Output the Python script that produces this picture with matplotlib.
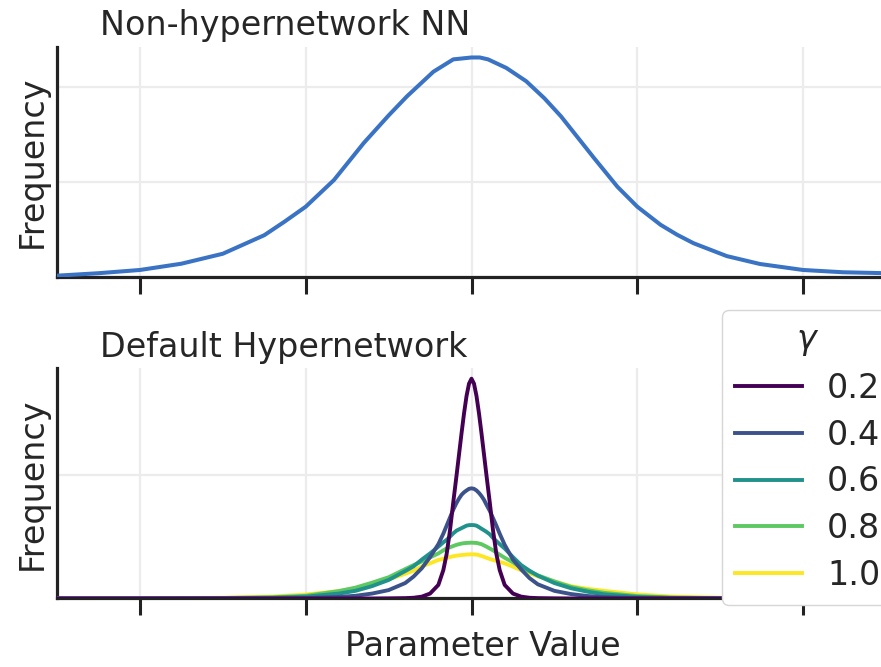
import numpy as np
import matplotlib
matplotlib.use('Agg')
import matplotlib.pyplot as plt

# ---- data ----
# Non-hypernetwork NN: parameter value distribution
nn_x = [-2.5, -2.25, -2.0, -1.75, -1.5, -1.25, -1.13, -1.0, -0.83, -0.65, -0.5, -0.39,
        -0.23, -0.11, 0.0, 0.05, 0.1, 0.21, 0.33, 0.44, 0.54, 0.64, 0.74, 0.88, 1.0,
        1.14, 1.24, 1.34, 1.54, 1.74, 2.0, 2.24, 2.5]
nn_freq = [0.014, 0.04, 0.074, 0.14, 0.245, 0.44, 0.58, 0.74, 1.02, 1.41, 1.70, 1.90,
           2.16, 2.29, 2.31, 2.31, 2.29, 2.20, 2.06, 1.88, 1.69, 1.47, 1.25, 0.95, 0.74,
           0.55, 0.445, 0.355, 0.22, 0.137, 0.074, 0.05, 0.04]

# Default Hypernetwork: one curve per gamma
hyper_x = [-2.5, -2.0, -1.5, -1.2, -1.0, -0.8, -0.7, -0.6, -0.5, -0.4, -0.35, -0.3,
           -0.25, -0.2, -0.17, -0.15, -0.13, -0.11, -0.09, -0.075, -0.06, -0.045,
           -0.03, -0.015, 0.0,
           0.015, 0.03, 0.045, 0.06, 0.075, 0.09, 0.11, 0.13, 0.15, 0.17, 0.2, 0.25,
           0.3, 0.35, 0.4, 0.5, 0.6, 0.7, 0.8, 1.0, 1.2, 1.5, 2.0, 2.5]
gammas = ['0.2', '0.4', '0.6', '0.8', '1.0']

freq_g02 = [0, 0, 0, 0, 0, 0, 0, 0, 0.001, 0.003, 0.006, 0.015,
            0.04, 0.11, 0.23, 0.36, 0.55, 0.78, 1.0, 1.17, 1.34, 1.50,
            1.64, 1.74, 1.78,
            1.74, 1.64, 1.50, 1.34, 1.17, 1.0, 0.78, 0.55, 0.36, 0.23, 0.11, 0.04,
            0.015, 0.006, 0.003, 0.001, 0, 0, 0, 0, 0, 0, 0, 0]
freq_g04 = [0, 0, 0, 0.001, 0.004, 0.013, 0.022, 0.04, 0.068, 0.125, 0.177, 0.245,
            0.335, 0.44, 0.525, 0.59, 0.655, 0.72, 0.775, 0.81, 0.84, 0.86,
            0.875, 0.888, 0.892,
            0.888, 0.875, 0.855, 0.83, 0.80, 0.76, 0.71, 0.65, 0.59, 0.525, 0.435, 0.315,
            0.235, 0.165, 0.115, 0.062, 0.036, 0.02, 0.011, 0.004, 0.001, 0, 0, 0]
freq_g06 = [0, 0, 0.002, 0.006, 0.015, 0.04, 0.062, 0.1, 0.15, 0.222, 0.26, 0.315,
            0.365, 0.42, 0.455, 0.475, 0.5, 0.528, 0.55, 0.56, 0.57, 0.58,
            0.59, 0.594, 0.595,
            0.594, 0.59, 0.578, 0.565, 0.553, 0.54, 0.52, 0.49, 0.465, 0.44, 0.405, 0.335,
            0.27, 0.225, 0.185, 0.125, 0.083, 0.055, 0.034, 0.013, 0.005, 0.001, 0, 0]
freq_g08 = [0, 0.001, 0.004, 0.01, 0.022, 0.06, 0.088, 0.128, 0.172, 0.238, 0.27, 0.3,
            0.333, 0.365, 0.39, 0.405, 0.415, 0.425, 0.435, 0.44, 0.445, 0.448,
            0.45, 0.451, 0.452,
            0.451, 0.45, 0.445, 0.44, 0.43, 0.42, 0.405, 0.39, 0.372, 0.355, 0.33, 0.293,
            0.25, 0.218, 0.188, 0.138, 0.094, 0.067, 0.046, 0.02, 0.008, 0.002, 0, 0]
freq_g10 = [0.001, 0.002, 0.006, 0.016, 0.032, 0.06, 0.082, 0.112, 0.155, 0.2, 0.225, 0.26,
            0.285, 0.312, 0.322, 0.33, 0.336, 0.342, 0.347, 0.35, 0.352, 0.354,
            0.356, 0.357, 0.358,
            0.357, 0.356, 0.351, 0.345, 0.337, 0.33, 0.32, 0.312, 0.304, 0.297, 0.285, 0.258,
            0.228, 0.205, 0.18, 0.138, 0.1, 0.078, 0.062, 0.033, 0.016, 0.006, 0.001, 0]
hyper_freqs = [freq_g02, freq_g04, freq_g06, freq_g08, freq_g10]

x_ticks = [-2, -1, 0, 1, 2]

# ---- styling ----
text_color = '#262626'
font_size = 24
plt.rcParams['font.family'] = ['DejaVu Sans']
plt.rcParams['text.color'] = text_color
plt.rcParams['axes.labelcolor'] = text_color


def style_axis(ax, yticks, ytop):
    for side in ['top', 'right']:
        ax.spines[side].set_visible(False)
    for side in ['left', 'bottom']:
        ax.spines[side].set_linewidth(2.3)
        ax.spines[side].set_color('#222222')
    ax.set_xlim(-2.5, 2.5)
    ax.set_ylim(0, ytop)
    ax.set_xticks(x_ticks)
    ax.set_yticks(yticks)
    ax.grid(True, color='#ececec', linewidth=1.6)
    ax.set_axisbelow(True)
    ax.tick_params(axis='x', direction='out', length=12, width=2.2, color='#222222',
                   labelbottom=False)
    ax.tick_params(axis='y', length=0, labelleft=False)
    ax.set_ylabel('Frequency', fontsize=font_size)
    ax.yaxis.set_label_coords(-0.01, 0.5)


fig = plt.figure(figsize=(8.81, 6.67), dpi=100)
ax1 = fig.add_axes([0.0648, 0.5847, 0.9408, 0.3448])
ax2 = fig.add_axes([0.0648, 0.1027, 0.9408, 0.3451])

# Top panel
ax1.plot(nn_x, nn_freq, color='#3a73c4', linewidth=2.9, zorder=3)
style_axis(ax1, [0, 1, 2], 2.42)
ax1.set_title('Non-hypernetwork NN', loc='left', x=0.052, pad=8.5,
              fontsize=font_size, color=text_color)

# Bottom panel - purple drawn on top
colors = plt.cm.viridis(np.linspace(0, 1, len(gammas)))
for i, (g, freq) in enumerate(zip(gammas, hyper_freqs)):
    ax2.plot(hyper_x, freq, color=colors[i], linewidth=2.8, label=g,
             zorder=3 + (len(gammas) - i) * 0.1)
style_axis(ax2, [0, 1], 1.864)
ax2.set_title('Default Hypernetwork', loc='left', x=0.052, pad=8.5,
              fontsize=font_size, color=text_color)

leg = ax2.legend(title=r'$\gamma$', loc='upper left',
                 bbox_to_anchor=(722 / 881, 1 - 310 / 667), bbox_transform=fig.transFigure,
                 borderaxespad=0, fontsize=font_size, title_fontsize=font_size,
                 handlelength=2.0, handletextpad=0.75, labelspacing=0.41,
                 frameon=True, framealpha=1, edgecolor='#d6d6d6', fancybox=True)
leg.set_zorder(10)

fig.text(0.548, 0.0165, 'Parameter Value', ha='center', va='baseline',
         fontsize=font_size, color=text_color)

plt.savefig('out.png', dpi=100)
plt.close()
